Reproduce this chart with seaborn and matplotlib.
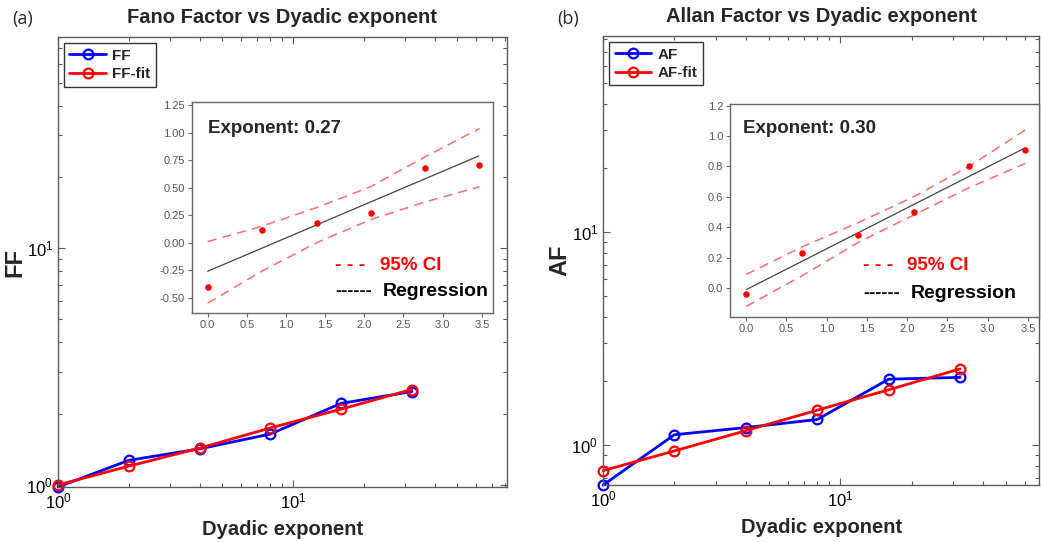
import matplotlib
matplotlib.use("Agg")
import matplotlib.pyplot as plt
import seaborn as sns
import numpy as np
from matplotlib.ticker import LogLocator, LogFormatterSciNotation, NullFormatter, MultipleLocator, FormatStrFormatter

# ---------------- data ----------------
dyadic = [1, 2, 4, 8, 16, 32]
ff = [0.98, 1.27, 1.42, 1.64, 2.21, 2.48]
ff_fit = [1.00, 1.20, 1.43, 1.74, 2.09, 2.53]
af = [0.65, 1.12, 1.21, 1.32, 2.04, 2.08]
af_fit = [0.76, 0.94, 1.17, 1.46, 1.82, 2.28]

ln_x = [0.0, 0.69, 1.39, 2.08, 2.77, 3.47]
ff_ln = [-0.40, 0.12, 0.18, 0.27, 0.68, 0.71]
ff_ci_up = [0.01, 0.15, 0.32, 0.51, 0.78, 1.04]
ff_ci_lo = [-0.55, -0.26, 0.00, 0.21, 0.37, 0.51]
ff_reg_x = [0.0, 3.46]
ff_reg_y = [-0.26, 0.79]

af_ln = [-0.04, 0.23, 0.35, 0.50, 0.80, 0.91]
af_ci_up = [0.09, 0.27, 0.43, 0.60, 0.80, 1.04]
af_ci_lo = [-0.12, 0.08, 0.30, 0.48, 0.66, 0.82]
af_reg_x = [0.0, 3.46]
af_reg_y = [-0.01, 0.92]

titles = ["Fano Factor vs Dyadic exponent", "Allan Factor vs Dyadic exponent"]
ylabels = ["FF", "AF"]
panel_tags = ["(a)", "(b)"]
exps = ["Exponent: 0.27", "Exponent: 0.30"]

# ---------------- style ----------------
sns.set_style("ticks")
plt.rcParams['font.family'] = ['Liberation Sans', 'DejaVu Sans']
plt.rcParams['mathtext.fontset'] = 'custom'
plt.rcParams['mathtext.rm'] = 'Liberation Sans'

fig = plt.figure(figsize=(10.41, 5.42), dpi=100)

main_pos = [[0.0557, 0.1015, 0.431, 0.830], [0.5793, 0.105, 0.419, 0.8285]]
inset_pos = [[0.1844, 0.4225, 0.289, 0.389], [0.7013, 0.415, 0.2968, 0.393]]
xlims = [(1, 81), (1, 69)]
ylims = [(0.98, 78), (0.65, 83)]
tag_x = [0.012, 0.535]

series = [(ff, ff_fit, "FF", "FF-fit"), (af, af_fit, "AF", "AF-fit")]
insets = [(ff_ln, ff_ci_up, ff_ci_lo, ff_reg_x, ff_reg_y, (-0.64, 1.28), 0.25, "%.2f"),
          (af_ln, af_ci_up, af_ci_lo, af_reg_x, af_reg_y, (-0.19, 1.21), 0.2, "%.1f")]
exp_pos = [(0.053, 0.877), (0.042, 0.883)]
ci_pos = [(0.475, 0.625, 0.227, 0.10, 0.635), (0.43, 0.573, 0.244, 0.113, 0.586)]

frame_col = "#5a5a5a"
for i in range(2):
    ax = fig.add_axes(main_pos[i])
    y1, y2, l1, l2 = series[i]
    sns.lineplot(x=dyadic, y=y1, ax=ax, color="blue", lw=2, marker="o", markersize=7,
                 markerfacecolor="none", markeredgecolor="blue", markeredgewidth=1.6,
                 label=l1, clip_on=False)
    sns.lineplot(x=dyadic, y=y2, ax=ax, color="red", lw=2, marker="o", markersize=7,
                 markerfacecolor="none", markeredgecolor="red", markeredgewidth=1.6,
                 label=l2, clip_on=False)
    ax.set_xscale("log")
    ax.set_yscale("log")
    ax.set_xlim(*xlims[i])
    ax.set_ylim(*ylims[i])
    for a in (ax.xaxis, ax.yaxis):
        a.set_major_locator(LogLocator(base=10))
        a.set_minor_locator(LogLocator(base=10, subs=np.arange(2, 10)))
        a.set_major_formatter(LogFormatterSciNotation())
        a.set_minor_formatter(NullFormatter())
    ax.tick_params(which="both", direction="in", top=True, right=True, color=frame_col,
                   labelsize=12, labelcolor="black")
    ax.tick_params(which="major", length=5, width=0.8)
    ax.tick_params(which="minor", length=3, width=0.8)
    for s in ax.spines.values():
        s.set_color(frame_col)
        s.set_linewidth(1.0)
    ax.set_xlabel("Dyadic exponent", fontsize=14.5, fontweight="bold", labelpad=6)
    ax.set_ylabel(ylabels[i], fontsize=17, fontweight="bold", labelpad=0)
    ax.set_title(titles[i], fontsize=14.5, fontweight="bold", pad=10)
    leg = ax.legend(loc="upper left", frameon=True, fancybox=False, edgecolor="black",
                    prop={"weight": "bold", "size": 11}, handlelength=2.4,
                    borderaxespad=0.4, borderpad=0.35, labelspacing=0.3, handletextpad=0.4)
    leg.get_frame().set_linewidth(1.0)
    fig.text(tag_x[i], 0.965, panel_tags[i], fontsize=13,
             ha="left", va="center", family=["Open Sans", "DejaVu Sans"])

    # inset
    lnv, up, lo, rx, ry, ylim, step, fmt = insets[i]
    ins = fig.add_axes(inset_pos[i])
    ins.set_facecolor("white")
    sns.lineplot(x=ln_x, y=up, ax=ins, color="#ff6b6b", lw=1.1, linestyle=(0, (6, 4)))
    sns.lineplot(x=ln_x, y=lo, ax=ins, color="#ff6b6b", lw=1.1, linestyle=(0, (6, 4)))
    sns.lineplot(x=rx, y=ry, ax=ins, color="#444444", lw=0.9)
    sns.scatterplot(x=ln_x, y=lnv, ax=ins, color="red", s=22, edgecolor="red", linewidth=0, zorder=5)
    ins.set_xlim(-0.2, 3.64)
    ins.set_ylim(*ylim)
    ins.xaxis.set_major_locator(MultipleLocator(0.5))
    ins.yaxis.set_major_locator(MultipleLocator(step))
    ins.xaxis.set_major_formatter(FormatStrFormatter("%.1f"))
    ins.yaxis.set_major_formatter(FormatStrFormatter(fmt))
    ins.tick_params(direction="out", length=3, width=0.8, color="#666666", labelsize=8,
                    labelcolor="#555555", pad=2)
    for s in ins.spines.values():
        s.set_color("#666666")
        s.set_linewidth(1.0)
    ins.text(exp_pos[i][0], exp_pos[i][1], exps[i], transform=ins.transAxes, fontsize=13.5,
             fontweight="bold", ha="left", va="center")
    dx, tx, yci, yreg, tx2 = ci_pos[i]
    ins.text(dx, yci, "- - -", transform=ins.transAxes, fontsize=14, fontweight="bold",
             color="red", ha="left", va="center")
    ins.text(tx, yci, "95% CI", transform=ins.transAxes, fontsize=13.5, fontweight="bold",
             color="red", ha="left", va="center")
    ins.text(dx, yreg, "------", transform=ins.transAxes, fontsize=13, fontweight="bold",
             color="black", ha="left", va="center")
    ins.text(tx2, yreg, "Regression", transform=ins.transAxes, fontsize=14, fontweight="bold",
             color="black", ha="left", va="center")

fig.savefig("out.png", dpi=100)
